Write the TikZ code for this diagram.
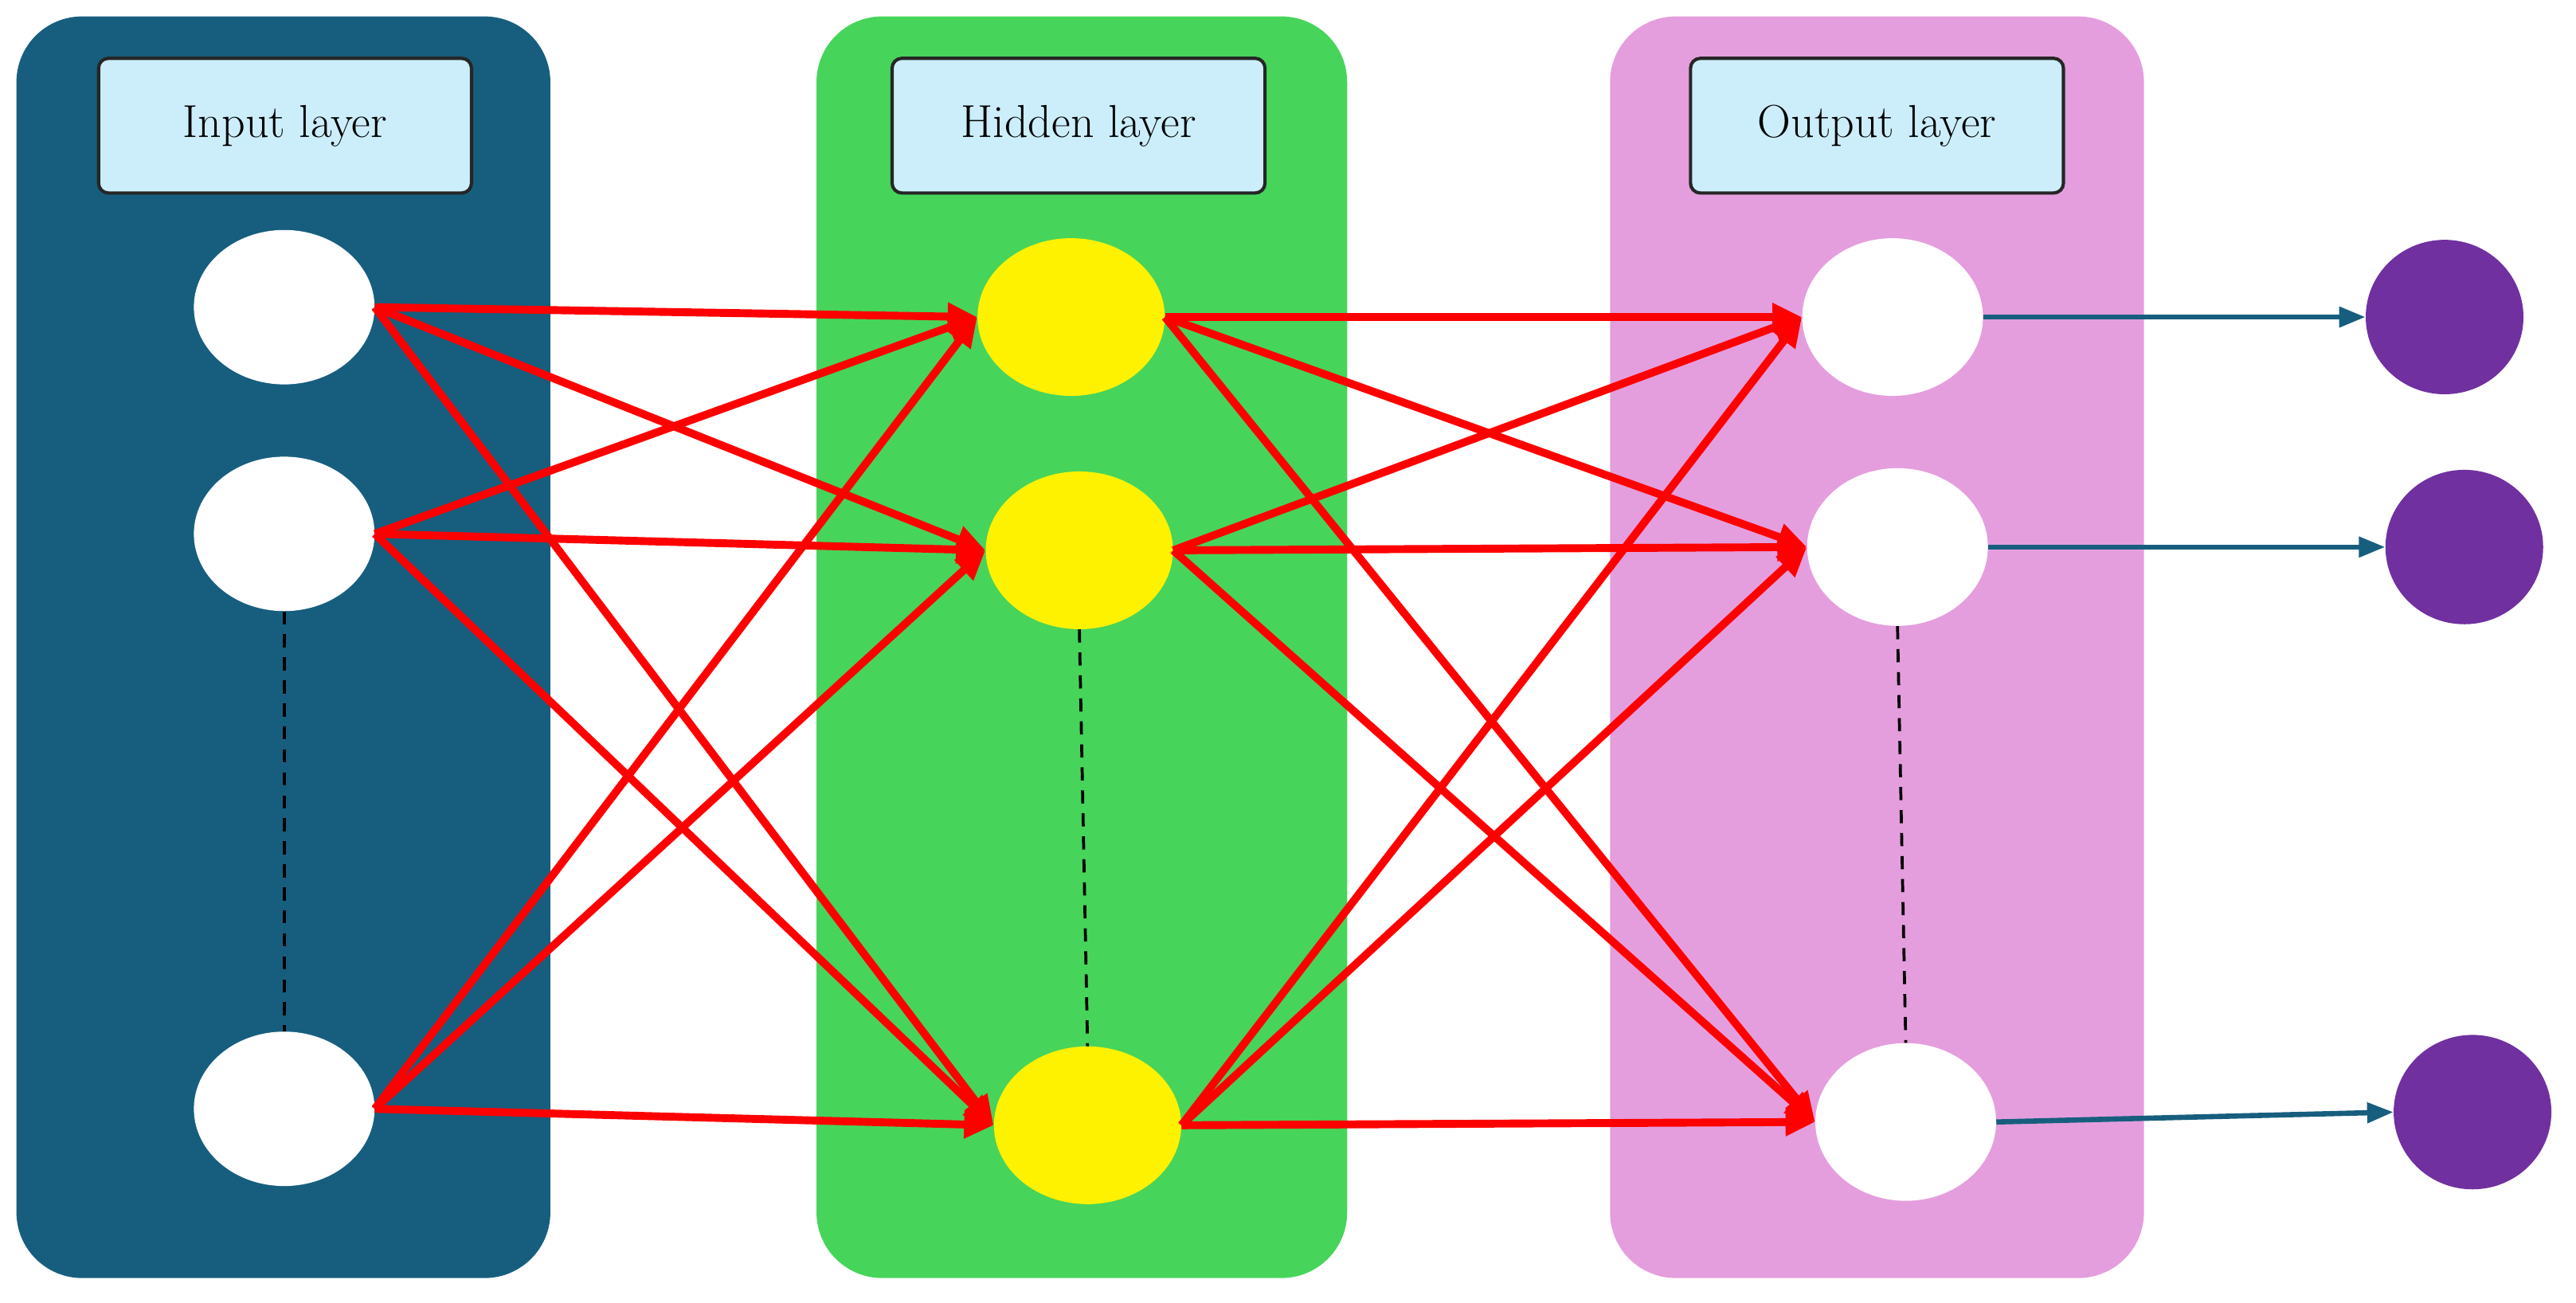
\documentclass[tikz,border=0pt]{standalone}
\usetikzlibrary{arrows.meta,shapes.geometric}
\definecolor{pblue}{HTML}{175E7E}
\definecolor{pgreen}{HTML}{47D45A}
\definecolor{ppink}{HTML}{E49EDD}
\definecolor{tbox}{HTML}{CCEEFB}
\definecolor{ppurple}{HTML}{7030A0}
\definecolor{ared}{HTML}{FF0000}
\begin{document}
\begin{tikzpicture}[x=0.5mm,y=-0.5mm,
 panel/.style={rounded corners=20mm,inner sep=0},
 title/.style={draw=black!85,line width=1mm,fill=tbox,rounded corners=3mm,minimum width=113.5mm,minimum height=41mm,font=\fontsize{40}{48}\selectfont},
 neuron/.style={ellipse,minimum width=55mm,minimum height=47mm,inner sep=0},
 red/.style={draw=ared,line width=2.4mm,-{Triangle[length=9mm,width=8mm]}},
 blu/.style={draw=pblue,line width=1.6mm,-{Triangle[length=8mm,width=6mm]}},
 dsh/.style={draw=black,line width=0.9mm,dash pattern=on 4mm off 3mm}]
\useasboundingbox (0,0) rectangle (1568,793);
\fill[pblue,rounded corners=20mm] (10,10) rectangle (335,778);
\fill[pgreen,rounded corners=20mm] (497,10) rectangle (820,778);
\fill[ppink,rounded corners=20mm] (980,10) rectangle (1305,778);
\node[title] (t1) at (173.5,76.5) {Input layer};
\node[title] (t2) at (656.5,76.5) {Hidden layer};
\node[title] (t3) at (1142.5,76.5) {Output layer};
\node[neuron,fill=white] (i1) at (173,187) {};
\node[neuron,fill=white] (i2) at (173,325) {};
\node[neuron,fill=white] (i3) at (173,675) {};
\node[neuron,fill=yellow,minimum width=57mm,minimum height=48mm] (h1) at (652,193) {};
\node[neuron,fill=yellow,minimum width=57mm,minimum height=48mm] (h2) at (657,335) {};
\node[neuron,fill=yellow,minimum width=57mm,minimum height=48mm] (h3) at (662,685) {};
\node[neuron,fill=white,minimum height=48mm] (o1) at (1152,193) {};
\node[neuron,fill=white,minimum height=48mm] (o2) at (1155,333) {};
\node[neuron,fill=white,minimum height=48mm] (o3) at (1160,683) {};
\node[neuron,fill=ppurple,minimum width=48mm] (p1) at (1488,193) {};
\node[neuron,fill=ppurple,minimum width=48mm] (p2) at (1500,333) {};
\node[neuron,fill=ppurple,minimum width=48mm] (p3) at (1505,677) {};
\draw[dsh] (i2.south) -- (i3.north);
\draw[dsh] (h2.south) -- (h3.north);
\draw[dsh] (o2.south) -- (o3.north);
\foreach \a in {i1,i2,i3}{\foreach \b in {h1,h2,h3}{\draw[red] (\a.east) -- (\b.west);}}
\foreach \a in {h1,h2,h3}{\foreach \b in {o1,o2,o3}{\draw[red] (\a.east) -- (\b.west);}}
\draw[blu] (o1.east) -- (p1.west);
\draw[blu] (o2.east) -- (p2.west);
\draw[blu] (o3.east) -- (p3.west);
\end{tikzpicture}
\end{document}
